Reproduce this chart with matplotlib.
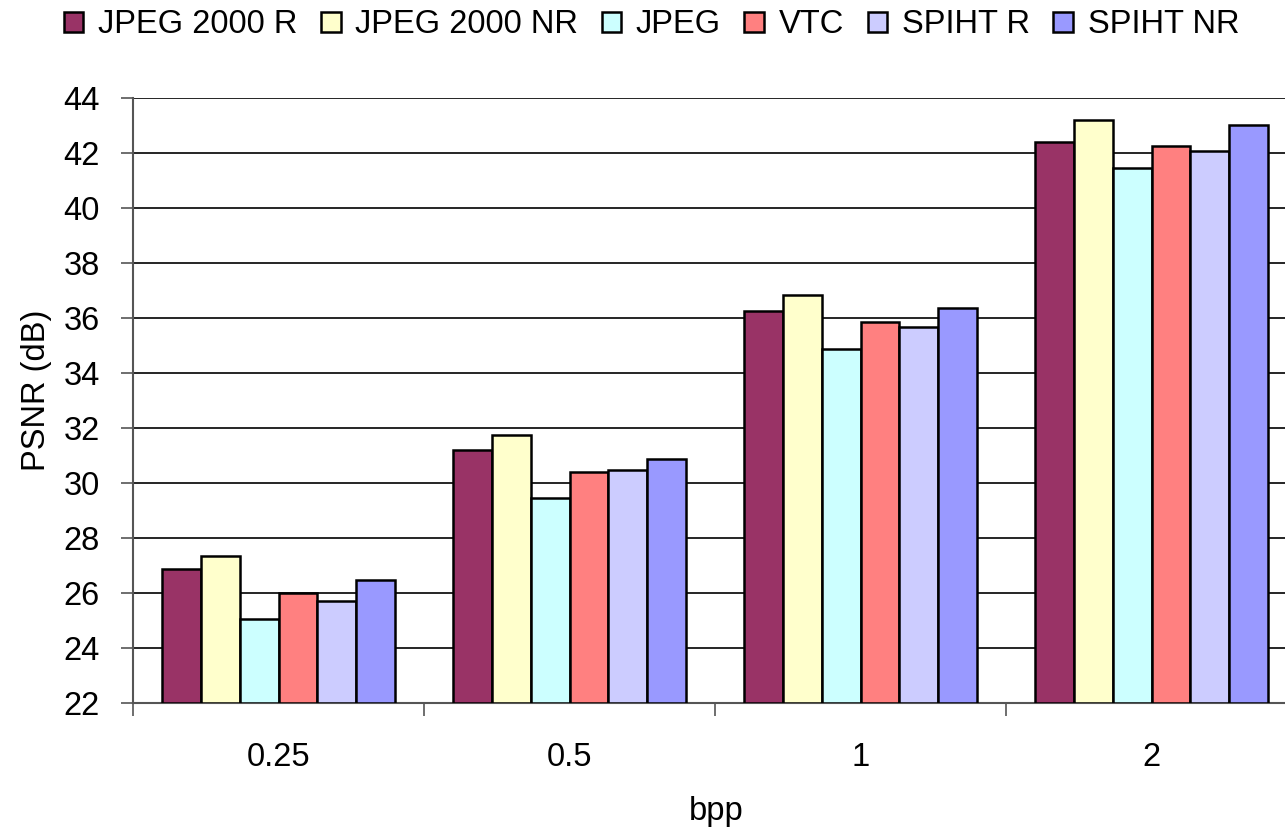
import matplotlib.pyplot as plt
import numpy as np

plt.rcParams['font.family'] = ['Liberation Sans', 'DejaVu Sans']

# data
bpp = ['0.25', '0.5', '1', '2']
series = ['JPEG 2000 R', 'JPEG 2000 NR', 'JPEG', 'VTC', 'SPIHT R', 'SPIHT NR']
jpeg2000_r = [26.88, 31.20, 36.25, 42.40]
jpeg2000_nr = [27.36, 31.76, 36.84, 43.19]
jpeg = [25.04, 29.44, 34.86, 41.45]
vtc = [26.01, 30.41, 35.85, 42.24]
spiht_r = [25.70, 30.49, 35.69, 42.07]
spiht_nr = [26.49, 30.89, 36.35, 43.03]
colors = ['#993366', '#FFFFCC', '#CCFFFF', '#FF8080', '#CCCCFF', '#9999FF']

values = [jpeg2000_r, jpeg2000_nr, jpeg, vtc, spiht_r, spiht_nr]
fs = 23.5

fig = plt.figure(figsize=(12.85, 8.3), dpi=100)
# plot area runs a bit past the right edge of the picture
ax = fig.add_axes([133 / 1285, 1 - 703 / 830, (1297 - 133) / 1285, (703 - 98) / 830])

x = np.arange(len(bpp))
w = 0.8 / len(series)
for i, (name, vals) in enumerate(zip(series, values)):
    ax.bar(x - 0.4 + w * (i + 0.5), np.array(vals) - 22, width=w, bottom=22,
           color=colors[i], edgecolor='black', linewidth=1.8, label=name, zorder=3)

ax.set_ylim(22, 44)
ax.set_xlim(-0.5, len(bpp) - 0.5)
ax.set_yticks(np.arange(22, 45, 2))
ax.yaxis.grid(True, color='black', linewidth=1.2, zorder=0)
ax.set_xticks(x)
ax.set_xticklabels(bpp)
ax.set_xticks(np.arange(-0.5, len(bpp)), minor=True)
ax.tick_params(axis='x', which='major', length=0, pad=28, labelsize=fs)
ax.tick_params(axis='x', which='minor', length=9, width=1.2, color='#555555')
ax.tick_params(axis='y', length=9, width=1.2, color='#555555', labelsize=fs, pad=15)

for s in ['top', 'right']:
    ax.spines[s].set_visible(False)
ax.spines['left'].set_color('#555555')
ax.spines['left'].set_linewidth(1.5)
ax.spines['bottom'].set_color('#555555')
ax.spines['bottom'].set_linewidth(1.5)

ax.set_ylabel('PSNR (dB)', fontsize=fs)
ax.set_xlabel('bpp', fontsize=fs)
ax.yaxis.set_label_coords(-0.07, 0.517)
ax.xaxis.set_label_coords(0.501, -0.153)

fig.legend(loc='upper center', bbox_to_anchor=(0.507, 1.024), ncol=6, frameon=False,
           fontsize=fs, handlelength=0.6, handleheight=0.6, handletextpad=0.45,
           columnspacing=0.72)

fig.savefig('out.png', dpi=100)
